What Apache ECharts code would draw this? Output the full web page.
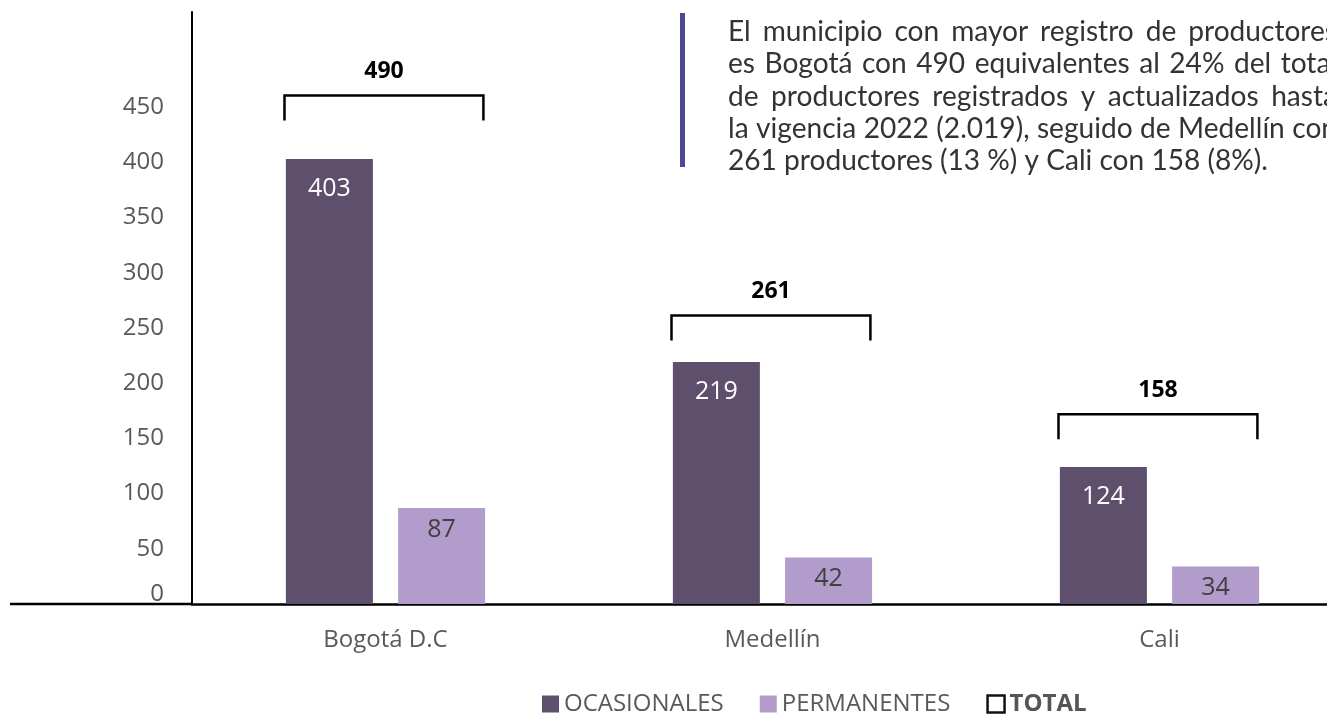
<!DOCTYPE html>
<html>
<head>
<meta charset="utf-8">
<script src="https://cdn.jsdelivr.net/npm/echarts@6/dist/echarts.min.js"></script>
<style>html,body{margin:0;padding:0;background:#fff;}#c{width:1327px;height:714px;}</style>
</head>
<body>
<div id="c"></div>
<script>
const categories = ['Bogotá D.C', 'Medellín', 'Cali'];
const ocasionales = [403, 219, 124];
const permanentes = [87, 42, 34];
const totals = [490, 261, 158];
const seriesNames = ['OCASIONALES', 'PERMANENTES', 'TOTAL'];
const noteLines = [
  'El municipio con mayor registro de productores',
  'es Bogotá con 490 equivalentes al 24% del total',
  'de productores registrados y actualizados hasta',
  'la vigencia 2022 (2.019), seguido de Medellín con',
  '261 productores (13 %) y Cali con 158 (8%).'
];

const chart = echarts.init(document.getElementById('c'));

// paragraph layout (justified lines)
const cv = document.createElement('canvas').getContext('2d');
const family = 'Lato, "Noto Sans", sans-serif';
cv.font = '22px ' + family;
const lastW = cv.measureText(noteLines[4]).width;
const fs = Math.round(22 * 540 / lastW * 10) / 10;
const font = fs + 'px ' + family;
cv.font = font;
const textX = 728, textW = 609, lineY0 = 32, lineStep = 32.3;
const textColor = '#333';
const textEls = [];
noteLines.forEach((line, i) => {
  const y = lineY0 + i * lineStep;
  if (i === noteLines.length - 1) {
    textEls.push({type: 'text', x: textX, y: y, style: {text: line, font: font, fill: textColor, align: 'left', verticalAlign: 'middle', textAlign: 'left', textVerticalAlign: 'middle'}});
    return;
  }
  const words = line.split(' ');
  const ws = words.map(w => cv.measureText(w).width);
  const sum = ws.reduce((a, b) => a + b, 0);
  const gap = (textW - sum) / (words.length - 1);
  let x = textX;
  words.forEach((w, k) => {
    textEls.push({type: 'text', x: x, y: y, style: {text: w, font: font, fill: textColor, align: 'left', verticalAlign: 'middle', textAlign: 'left', textVerticalAlign: 'middle'}});
    x += ws[k] + gap;
  });
});

const option = {
  animation: false,
  backgroundColor: '#fff',
  grid: {left: 192, top: 12, width: 1161, height: 592, outerBoundsMode: 'none', containLabel: false},
  legend: {
    top: 692, left: 542, padding: 0,
    itemWidth: 17, itemHeight: 17, itemGap: 36,
    textStyle: {fontFamily: '"Open Sans"', fontSize: 24, color: '#595959'},
    data: [
      {name: seriesNames[0], icon: 'rect'},
      {name: seriesNames[1], icon: 'rect'},
      {name: seriesNames[2], icon: 'rect', itemStyle: {color: '#fff', borderColor: '#111', borderWidth: 2.5},
       textStyle: {fontWeight: 'bold', color: '#555', fontFamily: '"Open Sans"', fontSize: 24}}
    ]
  },
  xAxis: {
    type: 'category', data: categories,
    axisLine: {lineStyle: {color: '#000', width: 2.5}},
    axisTick: {show: false},
    axisLabel: {color: '#595959', fontSize: 24, fontFamily: '"Open Sans"', margin: 24}
  },
  yAxis: [
    {
      type: 'value', min: 0, max: 536, interval: 50,
      axisLine: {show: true, lineStyle: {color: '#000', width: 2}},
      axisTick: {show: false},
      splitLine: {show: false},
      axisLabel: {
        color: '#595959', fontSize: 24, fontFamily: '"Open Sans"', margin: 28,
        formatter: v => v > 450 ? '' : (v === 0 ? '{z|0}' : String(v)),
        rich: {z: {color: '#595959', fontSize: 24, fontFamily: '"Open Sans"', padding: [0, 0, 20, 0]}}
      }
    },
    {type: 'value', min: -39.6, max: 577, show: false, splitLine: {show: false}}
  ],
  series: [
    {
      name: seriesNames[0], type: 'bar', data: ocasionales, barWidth: 87, barGap: '29%',
      itemStyle: {color: '#5e4f6c'},
      label: {show: true, position: 'insideTop', distance: 17, color: '#fff', fontSize: 25, fontFamily: '"Open Sans"'}
    },
    {
      name: seriesNames[1], type: 'bar', data: permanentes, barWidth: 87,
      itemStyle: {color: '#b29ccb'},
      label: {show: true, position: 'insideTop', distance: 9, color: '#404040', fontSize: 25, fontFamily: '"Open Sans"'}
    },
    {
      name: seriesNames[2], type: 'custom', yAxisIndex: 1,
      itemStyle: {color: '#fff', borderColor: '#111'},
      data: totals.map((t, i) => [i, t]),
      renderItem: function (params, api) {
        const c = api.coord([api.value(0), api.value(1)]);
        const bw = api.size([1, 0])[0];
        const left = c[0] - bw * 0.261, right = c[0] + bw * 0.253;
        const top = c[1], h = 25;
        return {
          type: 'group',
          children: [
            {type: 'polyline', shape: {points: [[left, top + h], [left, top], [right, top], [right, top + h]]},
             style: {stroke: '#000', lineWidth: 2.5, fill: null}},
            {type: 'text', x: (left + right) / 2, y: top - 24,
             style: {text: String(api.value(1)), font: 'bold 23px "Open Sans"', fill: '#000',
                     align: 'center', verticalAlign: 'middle', textAlign: 'center', textVerticalAlign: 'middle'}}
          ]
        };
      }
    }
  ],
  graphic: [
    {type: 'line', shape: {x1: 10, y1: 604, x2: 192, y2: 604}, style: {stroke: '#000', lineWidth: 2.5}},
    {type: 'rect', shape: {x: 680, y: 13, width: 5, height: 154}, style: {fill: '#4d4996'}}
  ].concat(textEls)
};
chart.setOption(option);
</script>
</body>
</html>
